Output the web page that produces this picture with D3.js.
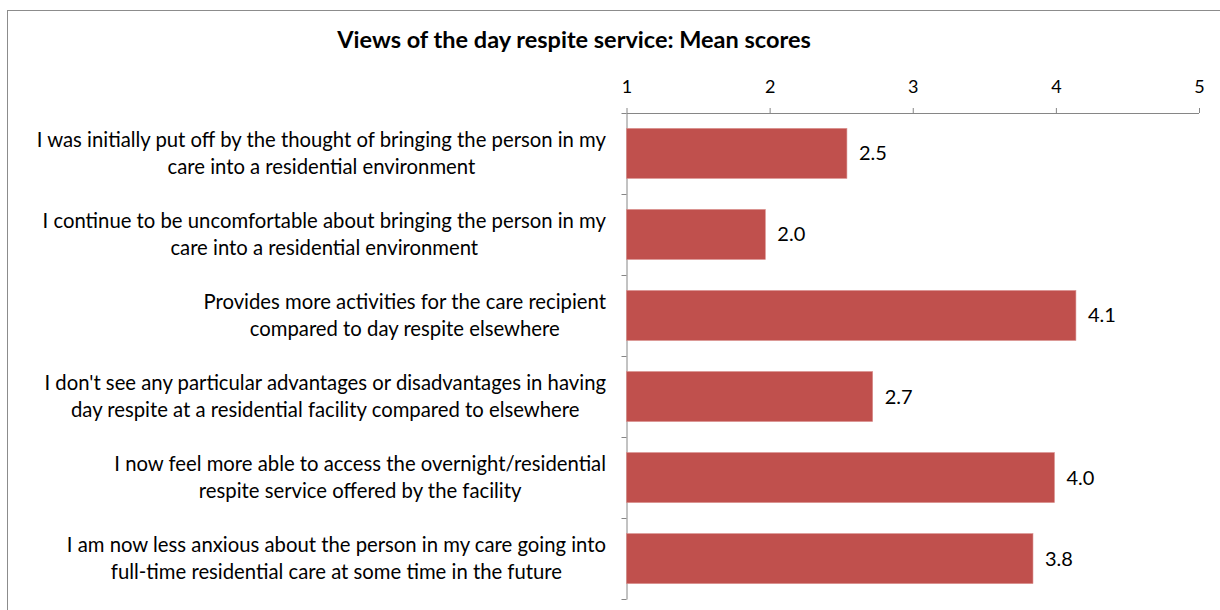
<!DOCTYPE html>
<html>
<head>
<meta charset="utf-8">
<script src="https://cdn.jsdelivr.net/npm/d3@7"></script>
<style>
  html, body { margin: 0; padding: 0; background: #fff; }
  svg { display: block; }
  text { font-family: Lato, "Open Sans", sans-serif; fill: #000; }
</style>
</head>
<body>
<svg id="chart" width="1220" height="610"></svg>
<script>
// Survey statements (each split over two lines) and their mean scores
const statements = [
  ["I was initially put off by the thought of bringing the person in my", "care into a residential environment"],
  ["I continue to be uncomfortable about bringing the person in my", "care into a residential environment"],
  ["Provides more activities for the care recipient", "compared to day respite elsewhere"],
  ["I don't see any particular advantages or disadvantages in having", "day respite at a residential facility compared to elsewhere"],
  ["I now feel more able to access the overnight/residential", "respite service offered by the facility"],
  ["I am now less anxious about the person in my care going into", "full-time residential care at some time in the future"]
];
const meanScores = [2.54, 1.97, 4.14, 2.72, 3.99, 3.84];
const scaleTicks = [1, 2, 3, 4, 5];
const chartTitle = "Views of the day respite service: Mean scores";

const svg = d3.select("#chart");
const axisColor = "#868686";
const barColor = "#C0504D";
const fontStack = 'Lato, "Open Sans", sans-serif';

// Chart area frame
svg.append("rect")
  .attr("x", 7.5).attr("y", 10.5)
  .attr("width", 1230).attr("height", 620)
  .attr("fill", "none").attr("stroke", "#8c8c8c").attr("stroke-width", 1);

const plot = { left: 626.5, right: 1199, top: 113, bottom: 599 };

const x = d3.scaleLinear().domain([1, 5]).range([plot.left, plot.right]);
const y = d3.scaleBand()
  .domain(d3.range(statements.length))
  .range([plot.top, plot.bottom])
  .paddingInner(0.383)
  .paddingOuter(0.19);

// Title
svg.append("text")
  .attr("x", 574).attr("y", 48)
  .attr("text-anchor", "middle")
  .attr("font-weight", "bold")
  .attr("font-size", 23.5)
  .text(chartTitle);

// Top value axis
const xAxis = svg.append("g")
  .attr("transform", `translate(0,${plot.top})`)
  .call(d3.axisTop(x).tickValues(scaleTicks).tickFormat(d3.format("d")).tickSize(5).tickSizeOuter(5).tickPadding(15));
xAxis.attr("font-family", fontStack).attr("font-size", 18);
xAxis.selectAll("path, line").attr("stroke", axisColor);
xAxis.selectAll("text").attr("fill", "#000");
xAxis.select(".domain").remove();
xAxis.append("line")
  .attr("x1", plot.left).attr("x2", plot.right)
  .attr("y1", 0.5).attr("y2", 0.5)
  .attr("stroke", axisColor);

// Left category axis with marks at band boundaries
const yEdges = d3.scaleLinear().domain([0, statements.length]).range([plot.top, plot.bottom]);
const yAxis = svg.append("g")
  .attr("transform", `translate(${plot.left},0)`)
  .call(d3.axisLeft(yEdges).tickValues(d3.range(statements.length + 1)).tickFormat("").tickSize(5).tickSizeOuter(0));
yAxis.selectAll("path, line").attr("stroke", axisColor);

// Bars
svg.append("g").selectAll("rect")
  .data(meanScores)
  .join("rect")
  .attr("x", x(1))
  .attr("y", (d, i) => y(i))
  .attr("width", d => x(d) - x(1))
  .attr("height", y.bandwidth())
  .attr("fill", barColor)
  .attr("stroke", "#d98f8d")
  .attr("stroke-width", 0.6);

// Value labels
const fmt = d3.format(".1f");
svg.append("g").selectAll("text")
  .data(meanScores)
  .join("text")
  .attr("x", d => x(d) + 12)
  .attr("y", (d, i) => y(i) + y.bandwidth() / 2)
  .attr("dy", "0.35em")
  .attr("font-size", 20)
  .text(d => fmt(d));

// Category labels: two centred lines, the longer line ending near the axis
const catSize = 20.3;
const labelRight = 606;
const labels = svg.append("g");
statements.forEach((lines, i) => {
  const cy = y(i) + y.bandwidth() / 2;
  const t = labels.append("text")
    .attr("text-anchor", "middle")
    .attr("font-size", catSize);
  const spans = lines.map((s, j) => t.append("tspan")
    .attr("y", cy + (j === 0 ? -13.5 : 13.5))
    .attr("dy", "0.35em")
    .text(s));
  const maxW = d3.max(spans, sp => sp.node().getComputedTextLength());
  spans.forEach(sp => sp.attr("x", labelRight - maxW / 2));
});
</script>
</body>
</html>
